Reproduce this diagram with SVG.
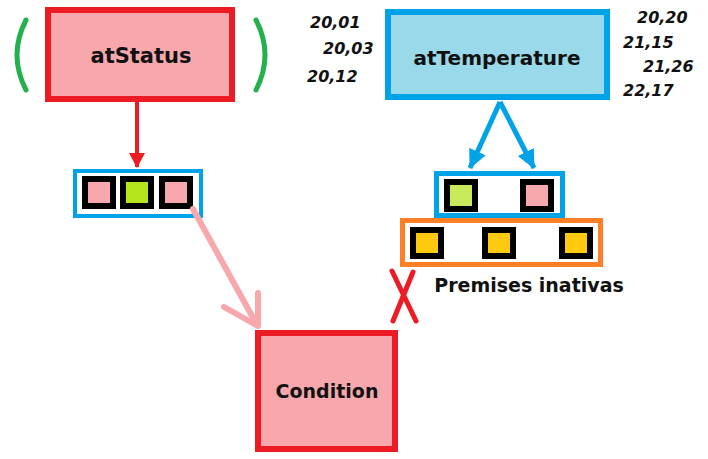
<svg xmlns="http://www.w3.org/2000/svg" width="708" height="459" viewBox="0 0 708 459">
<defs>
<style>
.lbl{font-family:"DejaVu Sans","Liberation Sans",sans-serif;font-weight:bold;fill:#111;text-anchor:middle}
.num{font-family:"DejaVu Sans","Liberation Sans",sans-serif;font-weight:bold;font-style:italic;font-size:16px;fill:#111}
.redbox{fill:#F8A8AC;stroke:#ED1C24;stroke-width:6}
.bluebox{fill:#99D9EA;stroke:#00A2E8;stroke-width:6}
.sq{stroke:#000;stroke-width:6}
.pink{fill:#F8A8AC}
.yel{fill:#FFC90E}
</style>
<marker id="redHead" markerWidth="16" markerHeight="16" viewBox="0 0 16 16" refX="14" refY="8" orient="auto" markerUnits="userSpaceOnUse">
<path d="M0,0 L15,8 L0,16 Z" fill="#ED1C24"/>
</marker>
<marker id="blueHead" markerWidth="20" markerHeight="20" viewBox="0 0 20 20" refX="18" refY="10" orient="auto" markerUnits="userSpaceOnUse">
<path d="M0,1 L19,10 L0,19 Z" fill="#00A2E8"/>
</marker>
</defs>
<rect width="708" height="459" fill="#fff"/>

<g id="parens" fill="none" stroke="#22B14C" stroke-width="5" stroke-linecap="round">
<path d="M26,20 Q8,55 26,90"/>
<path d="M256,20 Q274,55 256,90"/>
</g>

<g id="atStatus">
<rect class="redbox" x="48" y="10" width="184" height="89"/>
<text class="lbl" x="141" y="63" font-size="21">atStatus</text>
</g>

<g id="atTemperature">
<rect class="bluebox" x="388" y="12" width="219" height="85"/>
<text class="lbl" x="497" y="65" font-size="20">atTemperature</text>
</g>

<g id="values">
<text class="num" x="310" y="28">20,01</text>
<text class="num" x="323" y="54">20,03</text>
<text class="num" x="307" y="82">20,12</text>
<text class="num" x="637" y="23">20,20</text>
<text class="num" x="623" y="48">21,15</text>
<text class="num" x="643" y="72">21,26</text>
<text class="num" x="623" y="96">22,17</text>
</g>

<g id="statusPremises">
<rect x="75" y="171" width="126" height="45" fill="#fff" stroke="#00A2E8" stroke-width="4"/>
<rect class="sq pink" x="85" y="179" width="28" height="27"/>
<rect class="sq" fill="#B5E61D" x="123" y="179" width="28" height="27"/>
<rect class="sq pink" x="162" y="179" width="28" height="27"/>
</g>

<g id="tempPremises">
<rect x="436.5" y="173.5" width="126" height="42" fill="#fff" stroke="#00A2E8" stroke-width="5"/>
<rect class="sq" fill="#C9EA5A" x="447" y="182" width="28" height="27"/>
<rect class="sq pink" x="523" y="182" width="28" height="27"/>
</g>

<g id="inactivePremises">
<rect x="402.5" y="220.5" width="198" height="44" fill="#fff" stroke="#FF7F27" stroke-width="5"/>
<rect class="sq yel" x="413" y="230" width="28" height="26"/>
<rect class="sq yel" x="485" y="230" width="28" height="26"/>
<rect class="sq yel" x="562" y="230" width="28" height="26"/>
<text class="lbl" x="529" y="292" font-size="19">Premises inativas</text>
</g>

<g id="Condition">
<rect class="redbox" x="258" y="333" width="137" height="116"/>
<text class="lbl" x="327" y="398" font-size="19">Condition</text>
</g>

<g id="connectors">
<line x1="137" y1="102" x2="137" y2="167" stroke="#ED1C24" stroke-width="4" marker-end="url(#redHead)"/>
<line x1="500" y1="102" x2="470" y2="168" stroke="#00A2E8" stroke-width="5" marker-end="url(#blueHead)"/>
<line x1="500" y1="102" x2="534" y2="168" stroke="#00A2E8" stroke-width="5" marker-end="url(#blueHead)"/>
<g fill="none" stroke="#F8A8AC" stroke-width="6" stroke-linecap="round" stroke-linejoin="round">
<line x1="193" y1="209" x2="257" y2="325"/>
<polyline points="224,307 258,326 258,293"/>
</g>
<g stroke="#ED1C24" stroke-width="5" stroke-linecap="round">
<line x1="392" y1="271" x2="416" y2="321"/>
<line x1="413" y1="272" x2="393" y2="321"/>
</g>
</g>
</svg>
